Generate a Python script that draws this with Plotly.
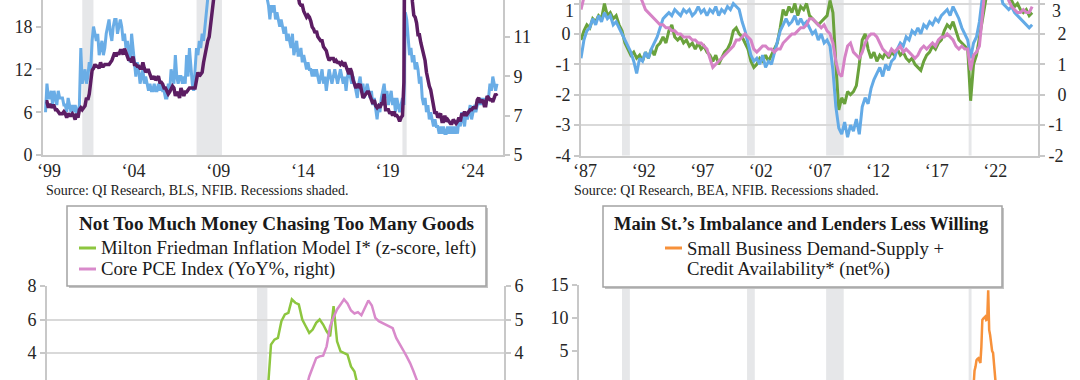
import numpy as np
import plotly.graph_objects as go

FONT = "Liberation Serif"
W, H = 1080, 380
TXT = "#262626"
AXC = "#C8C8C8"
GRID = "#D9D9D9"
REC = "#E6E7E9"

# ---------------- Panel A (monthly, Jan 1999 - Sep 2025) ----------------
nfib_a = [
    6, 10, 8, 8, 9, 7, 9, 8, 7, 9, 8, 8,
    8, 7, 7, 6, 8, 7, 6, 7, 6, 7, 6, 6,
    7, 15, 10, 11, 12, 10, 11, 13, 12, 16, 18, 17,
    16, 17, 14, 15, 16, 14, 15, 17, 18, 19, 17, 16,
    18, 19, 19, 17, 18, 19, 18, 16, 17, 15, 16, 14,
    13, 17, 15, 12, 11, 13, 12, 10, 11, 12, 10, 11,
    10, 9, 10, 9, 9, 10, 9, 9, 10, 9, 10, 9,
    9, 8, 8, 10, 9, 12, 11, 10, 14, 11, 10, 11,
    11, 10, 11, 10, 14, 11, 15, 12, 10, 9, 13, 15,
    14, 16, 15, 17, 16, 19, 21, 23, 26, 28, 30, 31,
    32, 33, 34, 33, 32, 31, 33, 32, 31, 32, 33, 31,
    31, 32, 30, 31, 32, 30, 31, 30, 31, 30, 29, 30,
    28, 27, 28, 26, 27, 26, 25, 26, 25, 24, 24, 25,
    23, 22, 21, 19, 21, 20, 21, 19, 20, 19, 18, 19,
    18, 17, 18, 16, 17, 16, 15, 17, 14, 15, 16, 14,
    14, 15, 13, 14, 13, 12, 13, 12, 12, 11, 12, 11,
    12, 11, 10, 11, 12, 10, 11, 9, 11, 12, 11, 10,
    11, 12, 11, 10, 11, 12, 11, 10, 11, 9, 11, 12,
    11, 10, 11, 10, 9, 8, 10, 11, 9, 10, 8, 9,
    10, 9, 8, 9, 7, 8, 6, 5, 7, 6, 8, 9,
    10, 8, 9, 7, 8, 9, 7, 8, 6, 8, 7, 6,
    7, 8, 7, 20, 19, 16, 14, 15, 13, 14, 12, 13,
    12, 10, 11, 8, 7, 8, 6, 7, 5, 6, 5, 4,
    5, 4, 4, 3, 4, 3, 4, 3, 3, 4, 3, 4,
    3, 4, 3, 4, 3, 5, 4, 6, 5, 4, 6, 5,
    6, 7, 5, 6, 7, 6, 7, 8, 7, 8, 7, 8,
    7, 8, 8, 10, 9, 11, 10, 9, 10,
]
u6_a = [
    7.7, 7.7, 7.4, 7.6, 7.4, 7.5, 7.5, 7.3, 7.3, 7.2, 7.1, 7.1,
    7.1, 7.2, 7.1, 6.9, 7.1, 7.0, 7.0, 7.1, 7.0, 6.8, 7.1, 6.9,
    7.3, 7.4, 7.3, 7.4, 7.5, 7.9, 7.8, 8.1, 8.7, 9.3, 9.4, 9.6,
    9.5, 9.5, 9.4, 9.7, 9.5, 9.5, 9.6, 9.6, 9.6, 9.6, 9.7, 9.8,
    10.0, 10.2, 10.0, 10.2, 10.1, 10.3, 10.3, 10.1, 10.4, 10.2, 10.0, 9.8,
    9.9, 9.7, 10.0, 9.6, 9.6, 9.5, 9.5, 9.4, 9.4, 9.7, 9.4, 9.2,
    9.3, 9.3, 9.1, 8.9, 8.9, 9.0, 8.8, 8.9, 9.0, 8.7, 8.7, 8.6,
    8.4, 8.4, 8.2, 8.1, 8.2, 8.4, 8.5, 8.4, 8.0, 8.2, 8.1, 7.9,
    8.4, 8.2, 8.0, 8.2, 8.2, 8.3, 8.4, 8.4, 8.4, 8.4, 8.4, 8.8,
    9.2, 9.0, 9.1, 9.2, 9.7, 10.1, 10.5, 10.8, 11.0, 11.8, 12.6, 13.6,
    14.2, 15.2, 15.8, 15.9, 16.4, 16.5, 16.4, 16.7, 16.7, 17.1, 17.1, 17.1,
    16.7, 16.9, 16.9, 17.0, 16.6, 16.4, 16.4, 16.5, 16.8, 16.6, 16.9, 16.6,
    16.2, 16.0, 15.9, 16.1, 15.8, 16.1, 15.9, 16.1, 16.4, 15.8, 15.5, 15.2,
    15.2, 15.0, 14.5, 14.6, 14.8, 14.8, 14.8, 14.6, 14.7, 14.4, 14.4, 14.4,
    14.6, 14.4, 13.8, 13.9, 13.8, 14.2, 13.8, 13.6, 13.5, 13.6, 13.1, 13.1,
    12.7, 12.6, 12.6, 12.3, 12.1, 12.0, 12.1, 12.0, 11.8, 11.5, 11.4, 11.2,
    11.3, 11.0, 10.9, 10.8, 10.8, 10.5, 10.4, 10.3, 10.0, 9.8, 9.9, 9.9,
    9.9, 9.7, 9.8, 9.7, 9.7, 9.6, 9.7, 9.6, 9.7, 9.5, 9.3, 9.1,
    9.4, 9.2, 8.8, 8.6, 8.4, 8.6, 8.5, 8.6, 8.3, 7.9, 8.0, 8.1,
    8.2, 8.2, 8.0, 7.8, 7.6, 7.8, 7.5, 7.4, 7.5, 7.4, 7.6, 7.6,
    8.1, 7.3, 7.3, 7.3, 7.1, 7.2, 7.0, 7.2, 7.0, 7.0, 6.9, 6.7,
    6.9, 7.0, 8.7, 22.9, 21.2, 18.0, 16.5, 14.2, 12.8, 12.1, 12.0, 11.7,
    11.1, 11.1, 10.7, 10.4, 10.2, 9.8, 9.2, 8.8, 8.5, 8.3, 7.8, 7.3,
    7.1, 7.2, 6.9, 7.0, 7.1, 6.7, 6.7, 7.0, 6.7, 6.8, 6.7, 6.6,
    6.6, 6.8, 6.7, 6.6, 6.7, 6.9, 6.7, 7.1, 7.0, 7.2, 7.0, 7.1,
    7.2, 7.3, 7.3, 7.4, 7.4, 7.4, 7.8, 7.9, 7.7, 7.7, 7.8, 7.5,
    7.5, 8.0, 7.9, 7.8, 7.8, 7.7, 7.9, 8.1, 8.0,
]
a_ticks = ["\u201899", "\u201804", "\u201809", "\u201814", "\u201819", "\u201824"]
a_tick_years = [1999, 2004, 2009, 2014, 2019, 2024]

# ---------------- Panel B (quarterly, 1987Q1 - 2025Q3) ----------------
green_b = [
    -0.2, 0.1, 0.3, 0.2,   0.5, 0.4, 0.6, 0.5,   1.0, 0.6, 0.7, 0.5,
    0.6, 0.3, 0.1, -0.3,   -0.5, -0.7, -0.6, -0.8,   -0.7, -0.9, -0.6, -0.8,
    -0.5, -0.7, -0.4, -0.3,   -0.1, -0.3, 0.1, 0.3,   -0.1, -0.2, -0.1, -0.3,
    -0.2, -0.4, -0.3, -0.5,   -0.3, -0.5, -0.4, -0.6,   -0.7, -0.9, -0.7, -1.0,
    -0.8, -0.6, -0.5, -0.3,   0.1, 0.2, 0.0, -0.1,   -0.3, -0.5, -0.9, -1.1,
    -1.0, -0.8, -0.9, -0.7,   -0.9, -0.7, -0.5, -0.3,   0.2, 0.8, 0.6, 0.9,
    0.7, 1.0, 0.6, 0.9,   0.8, 1.0, 0.6, 0.5,   0.4, 0.3, 0.4, 0.5,
    0.6, 1.1, 0.7, -1.0,   -2.5, -2.1, -2.3, -1.9,   -2.0, -1.9, -1.7, -1.0,
    -0.2, 0.0, -0.5, -0.8,   -0.6, -0.9, -0.7, -0.8,   -0.6, -0.8, -0.6, -0.7,
    -0.5, -0.7, -0.6, -0.8,   -0.9, -0.8, -1.0, -1.1,   -1.2, -0.9, -0.7, -0.6,
    -0.4, -0.5, -0.3, -0.2,   0.1, 0.3, 0.2, 0.4,   0.1, -0.2, -0.3, -0.4,
    -0.5, -2.2, -1.0, -0.7,   -0.1, 0.6, 1.3, 1.6,   1.9, 2.0, 1.8, 1.6,
    1.5, 1.4, 1.2, 1.1,   0.9, 1.0, 0.8, 0.7,   0.8, 0.6, 0.7,
]
blue_b = [
    -0.8, -0.2, 0.1, 0.2,   0.5, 0.3, 0.6, 0.4,   0.7, 0.5, 0.6, 0.3,
    0.4, 0.2, 0.0, -0.2,   -0.4, -0.6, -0.9, -1.3,   -0.8, -0.9, -0.6, -0.8,
    -0.5, -0.3, -0.1, 0.2,   0.5, 0.6, 0.7, 0.6,   0.8, 0.7, 0.6, 0.8,
    0.7, 0.8, 0.6, 0.7,   0.9, 0.7, 0.8, 0.6,   0.8, 0.7, 0.9, 0.6,
    0.8, 0.7, 0.9, 0.8,   1.0, 0.9, 0.8, 0.4,   0.1, -0.3, -0.7, -0.9,
    -0.8, -1.0, -0.7, -1.1,   -0.9, -1.0, -0.6, -0.3,   0.1, 0.3, 0.5, 0.3,
    0.4, 0.6, 0.3, 0.5,   0.3, 0.4, 0.2, 0.0,   0.1, -0.2, 0.0, -0.3,
    -0.2, -0.4, -1.2, -2.4,   -3.1, -3.3, -2.9, -3.4,   -3.0, -3.2, -2.8, -3.3,
    -2.4, -2.1, -2.3, -1.8,   -1.5, -1.3, -1.1, -1.4,   -1.0, -1.2, -0.9, -0.8,
    -0.5, -0.3, -0.4, -0.1,   -0.2, 0.1, 0.0, 0.2,   0.0, 0.3, 0.2, 0.4,
    0.3, 0.5, 0.4, 0.6,   0.7, 0.8, 0.6, 0.9,   0.7, 0.5, 0.2, 0.0,
    -0.2, -0.8, -0.3, -0.1,   0.4, 1.2, 1.8, 2.1,   2.3, 2.2, 1.9, 1.5,
    1.0, 0.9, 0.8, 0.9,   0.7, 0.6, 0.5, 0.4,   0.3, 0.2, 0.3,
]
pink_b = [
    2.8, 3.3, 3.6, 3.8,   3.9, 4.0, 4.1, 4.2,   4.2, 4.1, 4.0, 4.1,
    4.2, 4.3, 4.2, 4.1,   3.9, 3.7, 3.6, 3.5,   3.3, 3.05, 2.8, 2.7,
    2.6, 2.5, 2.4, 2.3,   2.3, 2.2, 2.2, 2.1,   2.1, 2.0, 2.0, 1.9,
    1.9, 1.9, 1.8, 1.8,   1.7, 1.7, 1.6, 1.5,   1.2, 0.9, 1.0, 1.1,
    1.2, 1.3, 1.4, 1.5,   1.6, 1.8, 1.8, 1.9,   2.0, 1.9, 1.8, 1.5,
    1.4, 1.5, 1.6, 1.6,   1.5, 1.5, 1.4, 1.5,   1.5, 1.7, 1.8, 1.9,
    2.0, 2.0, 2.1, 2.2,   2.2, 2.3, 2.5, 2.5,   2.4, 2.3, 2.2, 2.3,
    2.1, 2.0, 1.7, 1.1,   0.7, 0.6, 1.2, 1.6,   1.7, 1.4, 1.3, 1.2,
    1.4, 1.7, 1.9, 2.0,   2.0, 1.9, 1.7, 1.5,   1.4, 1.3, 1.5, 1.4,
    1.5, 1.6, 1.4, 1.5,   1.4, 1.3, 1.2, 1.3,   1.5, 1.6, 1.5, 1.6,
    1.7, 1.6, 1.8, 1.9,   1.9, 2.0, 1.9, 1.8,   1.6, 1.5, 1.6, 1.5,
    1.5, 0.8, 1.3, 1.4,   1.6, 2.8, 3.6, 4.2,   4.6, 4.8, 4.6, 4.5,
    4.1, 3.6, 3.1, 2.9,   2.8, 2.7, 2.7, 2.8,   2.7, 2.7, 2.9,
]
b_ticks = ["\u201887", "\u201892", "\u201897", "\u201802", "\u201807", "\u201812", "\u201817", "\u201822"]
b_tick_years = [1987, 1992, 1997, 2002, 2007, 2012, 2017, 2022]

# ---------------- Panel C (monthly) ----------------
friedman_c = [  # Feb 2020 - Aug 2022
    0.4, 0.3, 0.8, 1.5, 4.5, 4.8, 4.9, 5.9, 6.3, 6.4, 7.2,
    7.0, 6.9, 6.0, 5.6, 5.2, 5.4, 5.8, 6.0, 5.7, 5.3, 5.0, 6.8,
    4.7, 4.1, 4.0, 3.9, 3.2, 2.9, 2.0, 1.4,
]
core_pce_c = [  # Jan 2020 - Jan 2024
    1.8, 1.9, 1.7, 1.0, 1.1, 1.2, 1.4, 1.5, 1.5, 1.4, 1.5, 1.5,
    1.6, 1.6, 2.1, 2.9, 3.3, 3.6, 3.85, 3.9, 3.92, 4.2, 4.8, 5.07,
    5.3, 5.45, 5.6, 5.48, 5.27, 5.18, 5.22, 5.13, 5.37, 5.57, 5.42, 5.05,
    4.95, 4.9, 4.85, 4.8, 4.74, 4.45, 4.25, 4.09, 3.9, 3.7, 3.45, 3.2,
    2.9,
]

# ---------------- Panel D (monthly, Jan 2020 - Aug 2022) ----------------
demand_supply_d = [
    -3, -4, -6, -8, -5, -2, 0.6, 2.0, 2.6, 3.6, 3.8, 3.9,
    3.5, 3.2, 5.6, 9.7, 9.9, 10.0, 10.2, 9.7, 9.8, 14.2, 8.2, 7.4,
    6.0, 5.0, 4.7, 3.2, 0.6, -1.5, -3, -4,
]

recessions = [(1990.5, 1991.17), (2001.17, 2001.83), (2007.92, 2009.42), (2020.08, 2020.33)]

# ---------------- x positions (dates as fractional years) ----------------
xa = 1999.0 + np.arange(len(u6_a)) / 12.0
xb = 1987.0 + np.arange(len(green_b)) * 0.25
xc_g = 2020.0 + (1 + np.arange(len(friedman_c))) / 12.0
xc_p = 2020.0 + np.arange(len(core_pce_c)) / 12.0
xd = 2020.0 + np.arange(len(demand_supply_d)) / 12.0


def fx(p):
    return p / W


def fy(p):
    return 1 - p / H


fig = go.Figure()

# Panel A
fig.add_trace(go.Scatter(x=xa, y=nfib_a, mode="lines", line=dict(color="#6AADE6", width=3),
                         xaxis="x", yaxis="y", showlegend=False))
fig.add_trace(go.Scatter(x=xa, y=u6_a, mode="lines", line=dict(color="#5C1D63", width=3.5),
                         xaxis="x", yaxis="y2", showlegend=False))
# Panel B
fig.add_trace(go.Scatter(x=xb, y=green_b, mode="lines", line=dict(color="#6AA23C", width=3),
                         xaxis="x2", yaxis="y3", showlegend=False))
fig.add_trace(go.Scatter(x=xb, y=blue_b, mode="lines", line=dict(color="#63AAE6", width=3),
                         xaxis="x2", yaxis="y3", showlegend=False))
fig.add_trace(go.Scatter(x=xb, y=pink_b, mode="lines", line=dict(color="#D683C6", width=3),
                         xaxis="x2", yaxis="y4", showlegend=False))
# Panel C
fig.add_trace(go.Scatter(x=xc_g, y=friedman_c, mode="lines", line=dict(color="#8DC63F", width=2.5),
                         xaxis="x3", yaxis="y5", showlegend=False))
fig.add_trace(go.Scatter(x=xc_p, y=core_pce_c, mode="lines", line=dict(color="#D98ACB", width=2.5),
                         xaxis="x3", yaxis="y6", showlegend=False))
# Panel D
fig.add_trace(go.Scatter(x=xd, y=demand_supply_d, mode="lines", line=dict(color="#F7913A", width=2.5),
                         xaxis="x4", yaxis="y7", showlegend=False))

tickfont = dict(family=FONT, size=18, color=TXT)
FSP = "\u2007"  # figure space, to right-align single digits next to negative labels


def yax(domain, rng, tickvals, side="left", overlaying=None, anchor=None, grid=False, ticktext=None):
    d = dict(domain=domain, range=rng, tickvals=tickvals,
             ticktext=ticktext if ticktext else [str(v) for v in tickvals],
             side=side, showline=True, automargin=False,
             linecolor=AXC, linewidth=2, ticks="outside", ticklen=5, tickcolor=AXC, tickwidth=2,
             showgrid=grid, gridcolor=GRID, gridwidth=2, zeroline=False, tickfont=tickfont,
             fixedrange=True)
    if overlaying:
        d["overlaying"] = overlaying
    if anchor:
        d["anchor"] = anchor
    return d


def xax(domain, rng, anchor, tickvals=None, ticktext=None, visible=True):
    d = dict(domain=domain, range=rng, anchor=anchor, automargin=False, visible=visible,
             showline=True, linecolor=AXC, linewidth=2, ticks="", showgrid=False,
             zeroline=False, tickfont=tickfont, fixedrange=True, ticklabelstandoff=-2)
    if tickvals is not None:
        d["tickvals"] = tickvals
        d["ticktext"] = ticktext
    return d


# top tick of panel B sits at the picture edge: its label is placed a little lower (annotation)
b_left_vals = [-4, -3, -2, -1, 0, 1]
b_left_text = [str(v) for v in b_left_vals[:-1]] + [""]
b_right_vals = [-2, -1, 0, 1, 2, 3]
b_right_text = [str(v) if v < 0 else FSP + str(v) for v in b_right_vals[:-1]] + [""]

fig.update_layout(
    width=W, height=H, margin=dict(l=0, r=0, t=0, b=0, autoexpand=False),
    paper_bgcolor="white", plot_bgcolor="rgba(0,0,0,0)",
    font=dict(family=FONT, color=TXT),
    xaxis=xax([fx(43), fx(503)], [1998.85, 2026.02], "y",
              [y + 0.2 for y in a_tick_years], a_ticks),
    yaxis=yax([fy(155), 1], [0, 21.73], [0, 6, 12, 18], anchor="x"),
    yaxis2=yax([fy(155), 1], [5, 12.87], [5, 7, 9, 11], side="right", overlaying="y", anchor="x"),
    xaxis2=xax([fx(581), fx(1038)], [1987.0, 2026.0], "y3",
               [y + 0.35 for y in b_tick_years], b_ticks),
    yaxis3=yax([fy(155.5), 1], [-4, 1.115], b_left_vals, anchor="x2", grid=True, ticktext=b_left_text),
    yaxis4=yax([fy(155.5), 1], [-2, 3.115], b_right_vals, side="right", overlaying="y3", anchor="x2",
               ticktext=b_right_text),
    xaxis3=xax([fx(47), fx(504)], [2015.05, 2026.0], "y5", visible=False),
    yaxis5=yax([0, fy(286)], [2.39, 8], [2, 4, 6, 8], anchor="x3", grid=True),
    yaxis6=yax([0, fy(286)], [3.195, 6], [3, 4, 5, 6], side="right", overlaying="y5", anchor="x3"),
    xaxis4=xax([fx(579), fx(1038)], [1986.83, 2026.0], "y7", visible=False),
    yaxis7=yax([0, fy(285)], [0.6, 15], [0, 5, 10, 15], anchor="x4"),
)

shapes = []
# recession shading
for xr, yr in [("x", "y"), ("x2", "y3"), ("x3", "y5"), ("x4", "y7")]:
    for (a, b) in recessions:
        shapes.append(dict(type="rect", xref=xr, yref=yr + " domain", x0=a, x1=b, y0=0, y1=1,
                           fillcolor=REC, line=dict(width=0), layer="below"))

# legend boxes (shadow + box)
for (x0, y0, x1, y1) in [(67, 206, 486, 286), (603, 206, 1002, 287)]:
    shapes.append(dict(type="rect", xref="paper", yref="paper", x0=fx(x0 + 2), x1=fx(x1 + 2),
                       y0=fy(y1 + 2), y1=fy(y0 + 2), fillcolor="#C4C4C4", line=dict(width=0)))
    shapes.append(dict(type="rect", xref="paper", yref="paper", x0=fx(x0), x1=fx(x1),
                       y0=fy(y1), y1=fy(y0), fillcolor="white", line=dict(color="#A3A3A3", width=1.5)))
# legend swatches
for (x0, x1, yy, col) in [(79, 96, 248, "#8DC63F"), (79, 96, 269, "#D98ACB"), (665, 682, 248, "#F7913A")]:
    shapes.append(dict(type="line", xref="paper", yref="paper", x0=fx(x0), x1=fx(x1),
                       y0=fy(yy), y1=fy(yy), line=dict(color=col, width=3)))

fig.update_layout(shapes=shapes)

ann = []


def txt(x, y, s, size, xanchor="left", bold=False, color="#1A1A1A", pad=1):
    ann.append(dict(xref="paper", yref="paper", x=fx(x), y=fy(y), text=("<b>%s</b>" % s) if bold else s,
                    showarrow=False, xanchor=xanchor, yanchor="middle", borderpad=pad, borderwidth=0,
                    font=dict(family=FONT, size=size, color=color)))


txt(45, 190, "Source: QI Research, BLS, NFIB. Recessions shaded.", 14)
txt(573, 190, "Source: QI Research, BEA, NFIB. Recessions shaded.", 14)
txt(276, 224, "Not Too Much Money Chasing Too Many Goods", 19.2, xanchor="center", bold=True)
txt(100, 248, "Milton Friedman Inflation Model I* (z-score, left)", 18.7)
txt(100, 269, "Core PCE Index (YoY%, right)", 18.7)
txt(801, 224, "Main St.\u2019s Imbalance and Lenders Less Willing", 18.5, xanchor="center", bold=True)
txt(686, 248, "Small Business Demand-Supply +", 18.7)
txt(686, 269, "Credit Availability* (net%)", 18.7)

# top tick labels of panel B (kept fully inside the picture)
txt(574, 10.8, "1", 18, xanchor="right", color=TXT, pad=0)
txt(1052, 10.8, "3", 18, xanchor="left", color=TXT, pad=0)
fig.update_layout(annotations=ann)

fig.write_html("out.html", config={"displayModeBar": False},
               post_script="document.body.style.margin='0px';")
